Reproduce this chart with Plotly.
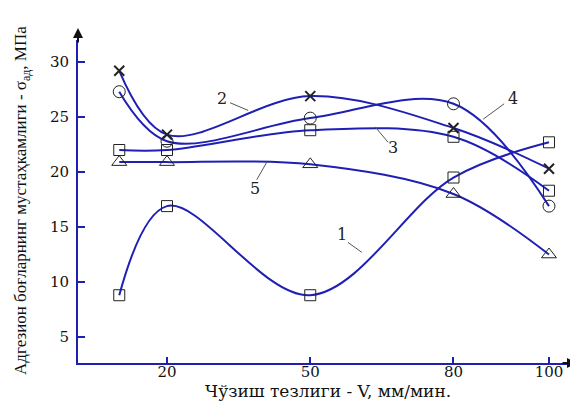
import plotly.graph_objects as go

# ---- data ----
speed = [10, 20, 50, 80, 100]          # V, mm/min
curve1 = [8.8, 16.9, 8.8, 19.5, 22.7]   # squares
curve2 = [29.2, 23.4, 26.9, 24.0, 20.3] # crosses
curve3 = [22.0, 22.0, 23.8, 23.2, 18.3] # squares
curve4 = [27.3, 22.8, 24.9, 26.2, 16.9] # circles
curve5 = [20.9, 20.9, 20.7, 18.0, 12.5] # triangles
x_ticks = [20, 50, 80, 100]
y_ticks = [5, 10, 15, 20, 25, 30]

BLUE = "#1f1fb4"
MK = "#222222"

series = [
    (curve1, "square-open", 11),
    (curve2, "x-thin-open", 10),
    (curve3, "square-open", 11),
    (curve4, "circle-open", 12),
    (curve5, "triangle-up-open", 13),
]

fig = go.Figure()
for vals, sym, sz in series:
    fig.add_trace(go.Scatter(
        x=speed, y=vals, mode="lines+markers",
        line=dict(color=BLUE, width=2, shape="spline", smoothing=1.0),
        marker=dict(symbol=sym, size=sz, color=MK, line=dict(width=2 if sym.startswith("x") else 1, color=MK)),
        cliponaxis=False, showlegend=False,
    ))

# curve number labels with leader lines
labels = [
    ("1", 56.6, 14.3, (57.9, 13.6, 60.8, 12.7)),
    ("2", 31.5, 26.7, (33.2, 26.3, 37.0, 25.6)),
    ("3", 67.3, 22.2, (66.3, 22.7, 63.6, 24.1)),
    ("4", 92.5, 26.7, (90.6, 26.2, 86.2, 24.8)),
    ("5", 38.4, 18.5, (38.8, 19.3, 40.9, 20.9)),
]
annotations = []
shapes = []
for t, lx, ly, (x0, y0, x1, y1) in labels:
    annotations.append(dict(x=lx, y=ly, xref="x", yref="y", text=t, showarrow=False,
                            xanchor="center", yanchor="middle",
                            font=dict(family="DejaVu Serif", size=16, color="#222")))
    shapes.append(dict(type="line", xref="x", yref="y", x0=x0, y0=y0, x1=x1, y1=y1,
                       line=dict(color="#555", width=1)))

# axis arrows
annotations.append(dict(xref="paper", yref="paper", x=0, y=1 + 12 / 323, ax=0, ay=16,
                        text="", showarrow=True, arrowhead=2, arrowsize=1, arrowwidth=2,
                        arrowcolor="#111"))
annotations.append(dict(xref="paper", yref="paper", x=1 + 7 / 492, y=0, ax=-16, ay=0,
                        text="", showarrow=True, arrowhead=2, arrowsize=1, arrowwidth=2,
                        arrowcolor="#111"))

# axis titles
annotations.append(dict(xref="paper", yref="paper", x=(328 - 78) / 492, y=-(391 - 363) / 323,
                        xanchor="center", yanchor="middle",
                        text="Чўзиш тезлиги - V, мм/мин.", showarrow=False,
                        font=dict(family="DejaVu Serif", size=17, color="#111")))
annotations.append(dict(xref="paper", yref="paper", x=-(78 - 22) / 492, y=(363 - 201) / 323,
                        xanchor="center", yanchor="middle",
                        text="Адгезион боғларнинг мустаҳкамлиги - σ<sub>ад</sub>, МПа",
                        textangle=-90, showarrow=False,
                        font=dict(family="Liberation Serif", size=17, color="#111")))

# the page adds an 8px body margin, so the figure is 8px smaller with margins shifted
fig.update_layout(
    width=570, height=395,
    margin=dict(l=70, r=8, t=32, b=40),
    paper_bgcolor="white", plot_bgcolor="white",
    annotations=annotations, shapes=shapes,
    xaxis=dict(range=[1.36, 104.4], tickvals=x_ticks, ticks="inside", ticklen=6, tickwidth=2,
               tickcolor=BLUE, showline=True, linecolor=BLUE, linewidth=2, showgrid=False,
               zeroline=False, ticklabelstandoff=-6,
               tickfont=dict(family="DejaVu Serif", size=15, color="#111")),
    yaxis=dict(range=[2.64, 32.0], tickvals=y_ticks, ticks="inside", ticklen=7, tickwidth=2,
               tickcolor=BLUE, showline=True, linecolor=BLUE, linewidth=2, showgrid=False,
               zeroline=False, ticklabelstandoff=4,
               tickfont=dict(family="DejaVu Serif", size=15, color="#111")),
)

fig.write_html("out.html")
